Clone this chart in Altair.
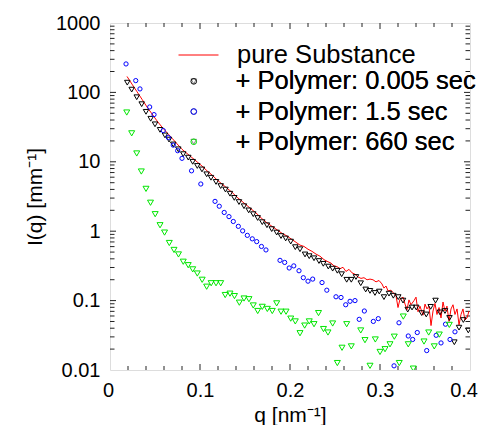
import altair as alt
import pandas as pd

# ---------------- data ----------------
line_name = "pure Substance"
line_color = "#ff0000"
point_names = ["+ Polymer: 0.005 sec", "+ Polymer: 1.5 sec", "+ Polymer: 660 sec"]
point_colors = ["#000000", "#0000ff", "#00e600"]
point_shapes = ["triangle-down", "circle", "triangle-down"]

# pure Substance (red line): q [nm^-1], log10 I [mm^-1]
pure_q = [0.0189, 0.0244, 0.0300, 0.0356, 0.0411, 0.0467, 0.0522, 0.0578, 0.0633, 0.0689,
          0.0744, 0.0800, 0.0856, 0.0911, 0.0967, 0.1022, 0.1078, 0.1133, 0.1189, 0.1244,
          0.1300, 0.1356, 0.1411, 0.1467, 0.1522, 0.1578, 0.1633, 0.1689, 0.1744, 0.1800,
          0.1856, 0.1911, 0.1967, 0.2022, 0.2067, 0.2111, 0.2156, 0.2200, 0.2244, 0.2289,
          0.2333, 0.2378, 0.2422, 0.2456, 0.2489, 0.2522, 0.2556, 0.2589, 0.2622, 0.2656,
          0.2689, 0.2722, 0.2756, 0.2789, 0.2822, 0.2856, 0.2889, 0.2922, 0.2956, 0.2989,
          0.3022, 0.3044, 0.3067, 0.3089, 0.3122, 0.3156, 0.3178, 0.3200, 0.3222, 0.3256,
          0.3278, 0.3300, 0.3322, 0.3344, 0.3378, 0.3400, 0.3422, 0.3444, 0.3478, 0.3500,
          0.3522, 0.3544, 0.3567, 0.3589, 0.3611, 0.3633, 0.3656, 0.3678, 0.3700, 0.3722,
          0.3744, 0.3767, 0.3789, 0.3811, 0.3833, 0.3856, 0.3878, 0.3900, 0.3922, 0.3944,
          0.3967, 0.3989]
pure_log10_I = [2.23, 2.12, 2.01, 1.90, 1.79, 1.69, 1.59, 1.50, 1.42, 1.34,
                1.26, 1.18, 1.12, 1.06, 1.00, 0.94, 0.87, 0.81, 0.74, 0.68,
                0.62, 0.56, 0.49, 0.43, 0.37, 0.31, 0.25, 0.18, 0.12, 0.07,
                0.02, -0.03, -0.07, -0.12, -0.16, -0.20, -0.22, -0.26, -0.29, -0.33,
                -0.36, -0.41, -0.44, -0.46, -0.50, -0.51, -0.54, -0.52, -0.58, -0.55,
                -0.60, -0.62, -0.66, -0.68, -0.67, -0.70, -0.69, -0.70, -0.73, -0.71,
                -0.76, -0.82, -0.79, -0.86, -0.85, -0.90, -0.93, -1.10, -0.98, -0.95,
                -1.05, -1.13, -0.99, -1.06, -1.00, -0.95, -1.16, -1.08, -1.21, -1.05,
                -1.12, -1.08, -1.36, -1.15, -1.04, -1.20, -1.10, -1.25, -1.02, -1.15,
                -1.08, -1.30, -1.12, -1.06, -1.20, -1.12, -1.35, -1.20, -1.12, -1.28,
                -1.25, -1.15]

# + Polymer: 0.005 sec (black triangles)
p0005_q = [0.0192, 0.0241, 0.0297, 0.0352, 0.0400, 0.0452, 0.0500, 0.0556, 0.0611, 0.0656,
           0.0703, 0.0759, 0.0814, 0.0870, 0.0919, 0.0970, 0.1022, 0.1074, 0.1122, 0.1178,
           0.1230, 0.1283, 0.1333, 0.1381, 0.1433, 0.1489, 0.1541, 0.1592, 0.1641, 0.1692,
           0.1744, 0.1797, 0.1852, 0.1900, 0.1952, 0.2008, 0.2059, 0.2111, 0.2167, 0.2214,
           0.2267, 0.2322, 0.2370, 0.2426, 0.2474, 0.2526, 0.2574, 0.2630, 0.2681, 0.2733,
           0.2786, 0.2841, 0.2889, 0.2944, 0.2992, 0.3044, 0.3100, 0.3148, 0.3203, 0.3256,
           0.3308, 0.3356, 0.3403, 0.3463, 0.3514, 0.3563, 0.3617, 0.3667, 0.3722, 0.3772,
           0.3826, 0.3878, 0.3926, 0.3981]
p0005_log10_I = [2.14, 2.04, 1.93, 1.83, 1.72, 1.62, 1.54, 1.46, 1.38, 1.32,
                 1.25, 1.18, 1.11, 1.06, 1.00, 0.94, 0.89, 0.82, 0.77, 0.71,
                 0.65, 0.60, 0.54, 0.48, 0.42, 0.36, 0.30, 0.245, 0.19, 0.13,
                 0.086, 0.03, -0.02, -0.07, -0.105, -0.15, -0.23, -0.26, -0.335, -0.36,
                 -0.39, -0.43, -0.47, -0.51, -0.54, -0.57, -0.62, -0.70, -0.70, -0.66,
                 -0.75, -0.84, -0.86, -0.89, -0.87, -0.95, -0.90, -0.93, -0.95, -1.00,
                 -1.13, -1.10, -1.10, -1.18, -1.20, -1.09, -1.00, -1.17, -1.15, -1.25,
                 -1.60, -1.39, -1.28, -1.43]

# + Polymer: 1.5 sec (blue circles)
p15_q = [0.0178, 0.0286, 0.0333, 0.0441, 0.0489, 0.0592, 0.0648, 0.0703, 0.0752, 0.0800,
         0.0906, 0.1009, 0.1167, 0.1214, 0.1269, 0.1322, 0.1370, 0.1426, 0.1474, 0.1526,
         0.1581, 0.1630, 0.1683, 0.1733, 0.1889, 0.1941, 0.1991, 0.2042, 0.2100, 0.2148,
         0.2200, 0.2252, 0.2356, 0.2409, 0.2511, 0.2567, 0.2619, 0.2667, 0.2722, 0.2769,
         0.2826, 0.2926, 0.2981, 0.3156, 0.3211, 0.3314, 0.3363, 0.3414, 0.3519, 0.3624,
         0.3678, 0.3728, 0.3778, 0.3833]
p15_log10_I = [2.41, 2.17, 2.05, 1.79, 1.68, 1.45, 1.35, 1.24, 1.16, 1.05,
               0.87, 0.68, 0.43, 0.36, 0.27, 0.21, 0.14, 0.07, 0.005, -0.06,
               -0.11, -0.15, -0.22, -0.27, -0.42, -0.45, -0.53, -0.50, -0.57, -0.67,
               -0.72, -0.69, -0.74, -0.85, -0.945, -0.955, -1.06, -1.01, -1.00, -1.27,
               -1.15, -1.30, -1.26, -1.94, -1.32, -1.51, -1.56, -1.46, -1.72, -1.50,
               -1.61, -1.34, -1.56, -1.45]

# + Polymer: 660 sec (green triangles)
p660_q = [0.0186, 0.0241, 0.0297, 0.0348, 0.0400, 0.0450, 0.0502, 0.0556, 0.0606, 0.0659,
          0.0711, 0.0761, 0.0814, 0.0869, 0.0919, 0.0970, 0.1024, 0.1074, 0.1124, 0.1178,
          0.1230, 0.1280, 0.1333, 0.1383, 0.1437, 0.1489, 0.1544, 0.1592, 0.1641, 0.1692,
          0.1748, 0.1803, 0.1852, 0.1900, 0.1956, 0.2008, 0.2059, 0.2111, 0.2163, 0.2214,
          0.2267, 0.2317, 0.2372, 0.2422, 0.2474, 0.2526, 0.2578, 0.2630, 0.2681, 0.2786,
          0.2833, 0.2889, 0.2948, 0.3000, 0.3056, 0.3111, 0.3159, 0.3214, 0.3259, 0.3314,
          0.3370, 0.3489, 0.3541, 0.3603, 0.3659, 0.3770]
p660_log10_I = [1.71, 1.41, 1.12, 0.86, 0.61, 0.41, 0.245, 0.086, -0.02, -0.17,
                -0.27, -0.335, -0.44, -0.49, -0.55, -0.61, -0.70, -0.80, -0.75, -0.75,
                -0.75, -0.92, -0.90, -0.935, -1.03, -0.97, -0.98, -1.07, -1.15, -1.09,
                -1.12, -1.15, -1.04, -1.16, -1.16, -1.26, -1.30, -1.47, -1.36, -1.30,
                -1.34, -1.18, -1.41, -1.46, -1.33, -1.90, -1.68, -1.34, -1.66, -1.43,
                -1.57, -1.94, -1.56, -1.74, -1.70, -1.63, -1.52, -1.90, -1.23, -1.63,
                -1.98, -1.59, -1.46, -1.66, -1.49, -1.35]

# axis ticks
x_label_values = [0, 0.1, 0.2, 0.3, 0.4]
x_major_ticks = [0.1, 0.2, 0.3]
x_minor_ticks = [0.02, 0.04, 0.06, 0.08, 0.12, 0.14, 0.16, 0.18, 0.22, 0.24, 0.26, 0.28,
                 0.32, 0.34, 0.36, 0.38]
y_label_values = [0.01, 0.1, 1, 10, 100, 1000]
y_major_ticks = [0.1, 1, 10, 100]
y_minor_ticks = [m * 10.0 ** k for k in range(-2, 3) for m in range(2, 10)]

# ---------------- tables ----------------
line_df = pd.DataFrame({"q": pure_q, "I": [10 ** v for v in pure_log10_I], "series": line_name})
pts_df = pd.concat([
    pd.DataFrame({"q": p0005_q, "I": [10 ** v for v in p0005_log10_I], "series": point_names[0]}),
    pd.DataFrame({"q": p15_q, "I": [10 ** v for v in p15_log10_I], "series": point_names[1]}),
    pd.DataFrame({"q": p660_q, "I": [10 ** v for v in p660_log10_I], "series": point_names[2]}),
], ignore_index=True)

FONT = "Liberation Sans"
W, H = 360, 347

axis_common = dict(labelOverlap=False, grid=False, ticks=False, tickSize=0,
                   domain=False, labelFontSize=20, titleFontSize=21, labelFont=FONT,
                   titleFont=FONT, titleFontWeight="normal", labelColor="black",
                   titleColor="black", format="~g", titleBaseline="alphabetic")
x_enc = alt.X("q:Q", scale=alt.Scale(domain=[0, 0.4], nice=False, zero=False),
              axis=alt.Axis(values=x_label_values, title="q [nm⁻¹]", labelPadding=10,
                            labelFlush=True, labelFlushOffset=7.5, titleY=51, **axis_common))
y_enc = alt.Y("I:Q", scale=alt.Scale(type="log", domain=[0.01, 1000], nice=False),
              axis=alt.Axis(values=y_label_values, title="I(q) [mm⁻¹]", labelPadding=10,
                            labelFlush=False, titleX=-69, **axis_common))

legend_common = dict(title=None, orient="none", padding=0, labelFont=FONT, labelFontSize=25.5,
                     labelColor="black", labelLimit=400, symbolStrokeWidth=1)

line = alt.Chart(line_df).mark_line(strokeWidth=1, clip=True).encode(
    x=x_enc, y=y_enc,
    stroke=alt.Stroke("series:N", scale=alt.Scale(domain=[line_name], range=[line_color]),
                      legend=alt.Legend(legendX=68, legendY=11.5, symbolType="stroke",
                                        symbolSize=1600, labelOffset=18, **legend_common)),
)

pt_legend = alt.Legend(legendX=71, legendY=45.6, symbolSize=32, labelOffset=29,
                       rowPadding=3.2, symbolFillColor="transparent", **legend_common)
size_rule = (alt.when(alt.datum.series == point_names[1]).then(alt.value(18))
             .when(alt.datum.series == point_names[0]).then(alt.value(30))
             .otherwise(alt.value(36)))
points = alt.Chart(pts_df).mark_point(filled=False, strokeWidth=1, opacity=1, clip=True).encode(
    x=x_enc, y=y_enc,
    color=alt.Color("series:N", scale=alt.Scale(domain=point_names, range=point_colors),
                    legend=pt_legend),
    shape=alt.Shape("series:N", scale=alt.Scale(domain=point_names, range=point_shapes),
                    legend=pt_legend),
    size=size_rule,
)

def xticks(vals, y0, y1):
    return alt.Chart(pd.DataFrame({"q": vals})).mark_rule(color="#222", strokeWidth=1).encode(
        x=x_enc, y=alt.value(y0), y2=alt.value(y1))

def yticks(vals, x0, x1):
    return alt.Chart(pd.DataFrame({"I": vals})).mark_rule(color="#222", strokeWidth=1).encode(
        y=y_enc, x=alt.value(x0), x2=alt.value(x1))

tick_layers = [
    xticks(x_major_ticks, H, H - 6), xticks(x_minor_ticks, H, H - 4),
    xticks(x_major_ticks, 0, 6), xticks(x_minor_ticks, 0, 4),
    yticks(y_major_ticks, 0, 6), yticks(y_minor_ticks, 0, 4.5),
    yticks(y_major_ticks, W, W - 6), yticks(y_minor_ticks, W, W - 4.5),
]

chart = alt.layer(*tick_layers, line, points).properties(
    width=W, height=H,
    autosize=alt.AutoSizeParams(type="none"),
    padding={"left": 102, "top": 15, "right": 8, "bottom": 55},
).resolve_legend(color="independent", stroke="independent").configure_view(
    stroke="black", strokeWidth=2
).configure(background="white")

chart.save("out.html", embed_options={"renderer": "svg", "actions": False})
